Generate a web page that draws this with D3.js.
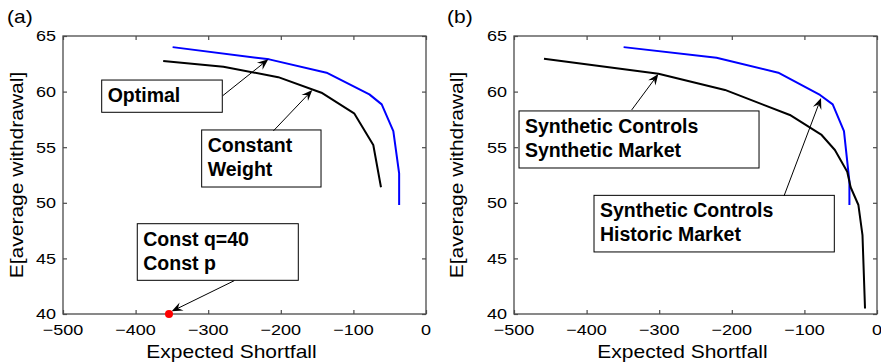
<!DOCTYPE html>
<html>
<head>
<meta charset="utf-8">
<script src="https://cdn.jsdelivr.net/npm/d3@7"></script>
<style>
  html, body { margin: 0; padding: 0; background: #fff; }
  svg { display: block; font-family: "Liberation Sans", Arial, sans-serif; }
</style>
</head>
<body>
<div id="chart"></div>
<script>
// values
const xTicks = [-500, -400, -300, -200, -100, 0];
const yTicks = [40, 45, 50, 55, 60, 65];

// panel (a)
const optimalX = [-349, -216, -137, -78, -61, -45, -37, -37];
const optimalY = [64.0, 62.9, 61.7, 59.75, 58.85, 56.45, 52.65, 49.8];
const constWeightX = [-362, -279, -203.5, -144, -99, -72.6, -62];
const constWeightY = [62.75, 62.24, 61.3, 59.9, 58.05, 55.2, 51.4];
const constQX = [-354];
const constQY = [40];

// panel (b)
const synthMarketX = [-349, -221, -136, -78.5, -61, -45.5, -38, -38];
const synthMarketY = [64.0, 63.05, 61.7, 59.7, 58.85, 56.45, 51.9, 49.8];
const histMarketX = [-458.7, -301, -209.4, -120, -76.3, -58, -41, -36.3, -25.6, -20, -16.5];
const histMarketY = [62.96, 61.6, 60.15, 57.9, 56.1, 54.75, 52.8, 51.4, 49.8, 47.1, 40.5];

const W = 881, H = 364;
const SX = 1.2; // the plain text in the figure is drawn a bit wide

const panels = [
  {
    tag: '(a)', tagX: 7, ylabX: 23, left: 63, right: 426,
    lines: [
      { xs: optimalX, ys: optimalY, color: '#0000ff' },
      { xs: constWeightX, ys: constWeightY, color: '#000' }
    ],
    dots: [{ xs: constQX, ys: constQY, color: '#ff0000' }],
    notes: [
      { box: [-446.7, -280.6, 61.04, 58.14], lines: ['Optimal'], tail: [-280, 59.63], head: [-217.2, 62.9] },
      { box: [-309, -144.6, 56.55, 51.42], lines: ['Constant', 'Weight'], tail: [-210.3, 56.46], head: [-156.6, 60.14] },
      { box: [-397.7, -175.9, 48.12, 43.03], lines: ['Const q=40', 'Const p'], tail: [-264, 43.0], head: [-350.3, 40.24] }
    ]
  },
  {
    tag: '(b)', tagX: 447, ylabX: 463, left: 514, right: 877,
    lines: [
      { xs: synthMarketX, ys: synthMarketY, color: '#0000ff' },
      { xs: histMarketX, ys: histMarketY, color: '#000' }
    ],
    dots: [],
    notes: [
      { box: [-493.1, -162.5, 58.26, 53.13], lines: ['Synthetic Controls', 'Synthetic Market'], tail: [-337.9, 58.35], head: [-301.2, 61.58] },
      { box: [-389.8, -58.8, 50.67, 45.58], lines: ['Synthetic Controls', 'Historic Market'], tail: [-128.1, 50.61], head: [-77.1, 59.42] }
    ]
  }
];

const plotTop = 36, plotBottom = 314;
const axisColor = '#4a4a4a';

const svg = d3.select('#chart').append('svg')
  .attr('width', W)
  .attr('height', H);

function wideText(g, x, y, str, size, anchor, rotate) {
  return g.append('text')
    .attr('transform', `translate(${x},${y})` + (rotate ? ' rotate(-90)' : '') + ` scale(${SX},1)`)
    .attr('text-anchor', anchor)
    .style('font-size', size + 'px')
    .style('fill', '#000')
    .text(str);
}

function arrow(g, x1, y1, x2, y2) {
  const ang = Math.atan2(y2 - y1, x2 - x1);
  const len = 11, half = 4.5, notch = 7;
  const ca = Math.cos(ang), sa = Math.sin(ang);
  // line stops at the notch so it doesn't poke through the tip
  g.append('line')
    .attr('x1', x1).attr('y1', y1)
    .attr('x2', x2 - notch * ca).attr('y2', y2 - notch * sa)
    .attr('stroke', '#000').attr('stroke-width', 1);
  const bx = x2 - len * ca, by = y2 - len * sa;
  const nx = x2 - notch * ca, ny = y2 - notch * sa;
  const pts = [
    [x2, y2],
    [bx - half * sa, by + half * ca],
    [nx, ny],
    [bx + half * sa, by - half * ca]
  ];
  g.append('path')
    .attr('d', 'M' + pts.map(p => p.join(',')).join('L') + 'Z')
    .attr('fill', '#000');
}

panels.forEach(p => {
  const x = d3.scaleLinear().domain([-500, 0]).range([p.left, p.right]);
  const y = d3.scaleLinear().domain([40, 65]).range([plotBottom, plotTop]);
  const g = svg.append('g');

  // panel tag
  wideText(g, p.tagX, 23, p.tag, 17.5, 'start', false);

  // ticks, pointing inward on all four sides
  const bottomAx = g.append('g')
    .attr('transform', `translate(0,${plotBottom})`)
    .call(d3.axisBottom(x).tickValues(xTicks).tickSize(-4).tickPadding(0));
  bottomAx.selectAll('text').remove();
  g.append('g')
    .attr('transform', `translate(0,${plotTop})`)
    .call(d3.axisTop(x).tickValues(xTicks).tickSize(-4).tickFormat(''));
  const leftAx = g.append('g')
    .attr('transform', `translate(${p.left},0)`)
    .call(d3.axisLeft(y).tickValues(yTicks).tickSize(-4));
  leftAx.selectAll('text').remove();
  g.append('g')
    .attr('transform', `translate(${p.right},0)`)
    .call(d3.axisRight(y).tickValues(yTicks).tickSize(-4).tickFormat(''));
  g.selectAll('.domain').remove();
  g.selectAll('.tick line').attr('stroke', axisColor).attr('stroke-width', 1.2);

  // tick labels
  const fmt = d3.format('d');
  xTicks.forEach(v => wideText(g, x(v), 335, fmt(v), 15, 'middle', false));
  yTicks.forEach(v => wideText(g, p.left - 7, y(v) + 5.3, fmt(v), 15, 'end', false));

  // box
  g.append('rect')
    .attr('x', p.left).attr('y', plotTop)
    .attr('width', p.right - p.left).attr('height', plotBottom - plotTop)
    .attr('fill', 'none')
    .attr('stroke', axisColor)
    .attr('stroke-width', 1.3);

  // axis titles (the x title sits a little left of the plot centre)
  wideText(g, (p.left + p.right) / 2 - 13, 357.5, 'Expected Shortfall', 17.5, 'middle', false);
  wideText(g, p.ylabX, (plotTop + plotBottom) / 2, 'E[average withdrawal]', 17.5, 'middle', true);

  // curves
  const line = d3.line().x(d => x(d[0])).y(d => y(d[1]));
  p.lines.forEach(s => {
    g.append('path')
      .datum(d3.zip(s.xs, s.ys))
      .attr('d', line)
      .attr('fill', 'none')
      .attr('stroke', s.color)
      .attr('stroke-width', 2)
      .attr('stroke-linejoin', 'round');
  });

  // annotations
  p.notes.forEach(n => {
    const bx = x(n.box[0]), bw = x(n.box[1]) - x(n.box[0]);
    const by = y(n.box[2]), bh = y(n.box[3]) - y(n.box[2]);
    g.append('rect')
      .attr('x', bx).attr('y', by)
      .attr('width', bw).attr('height', bh)
      .attr('fill', '#fff')
      .attr('stroke', '#000')
      .attr('stroke-width', 1);
    n.lines.forEach((t, i) => {
      g.append('text')
        .attr('x', bx + 6)
        .attr('y', by + 22 + i * 24)
        .style('font-size', '19.5px')
        .style('font-weight', 'bold')
        .style('fill', '#000')
        .text(t);
    });
    arrow(g, x(n.tail[0]), y(n.tail[1]), x(n.head[0]), y(n.head[1]));
  });

  // single point marker, drawn last so it sits over the axis line
  p.dots.forEach(s => {
    g.selectAll(null)
      .data(d3.zip(s.xs, s.ys))
      .enter()
      .append('circle')
      .attr('cx', d => x(d[0]))
      .attr('cy', d => y(d[1]))
      .attr('r', 4)
      .attr('fill', s.color);
  });
});
</script>
</body>
</html>
